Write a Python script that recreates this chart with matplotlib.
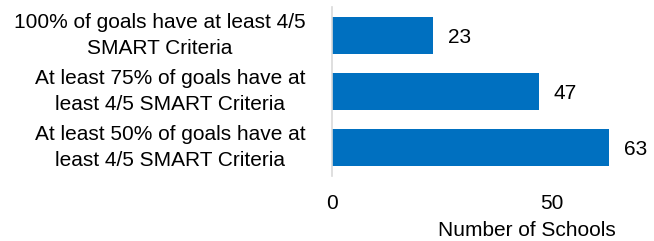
import matplotlib.pyplot as plt

categories = [
    "100% of goals have at least 4/5\nSMART Criteria",
    "At least 75% of goals have at\nleast 4/5 SMART Criteria",
    "At least 50% of goals have at\nleast 4/5 SMART Criteria",
]
schools = [23, 47, 63]
xticks = [0, 50]

plt.rcParams['font.family'] = ['Liberation Sans', 'DejaVu Sans']
fs = 15

fig = plt.figure(figsize=(6.54, 2.41), dpi=100)
ax = fig.add_axes([332 / 654, 65 / 241, 308 / 654, 169 / 241])

pos = list(range(len(categories)))
bars = ax.barh(pos, schools, height=0.66, color='#0070C0')
ax.set_ylim(len(categories) - 0.5, -0.5)
ax.set_xlim(0, 70)

# value labels to the right of each bar
for b, v in zip(bars, schools):
    ax.annotate(str(v), (b.get_width(), b.get_y() + b.get_height() / 2),
                xytext=(15, -2), textcoords='offset pixels',
                va='center', ha='left', fontsize=fs)

ax.set_yticks(pos)
ax.set_yticklabels(categories, fontsize=fs, ha='right', va='center',
                   multialignment='center', linespacing=1.45)
ax.set_xticks(xticks)
ax.set_xticklabels([str(t) for t in xticks], fontsize=fs)
ax.tick_params(axis='both', length=0)
ax.tick_params(axis='x', pad=13)
ax.tick_params(axis='y', pad=19)

for s in ['top', 'right', 'bottom']:
    ax.spines[s].set_visible(False)
ax.spines['left'].set_color('#D9D9D9')
ax.spines['left'].set_linewidth(1.2)

ax.set_xlabel("Number of Schools", fontsize=fs)
ax.xaxis.label.set_va('center')
ax.xaxis.set_label_coords(0.633, -0.32)

fig.savefig('out.png', dpi=100)
